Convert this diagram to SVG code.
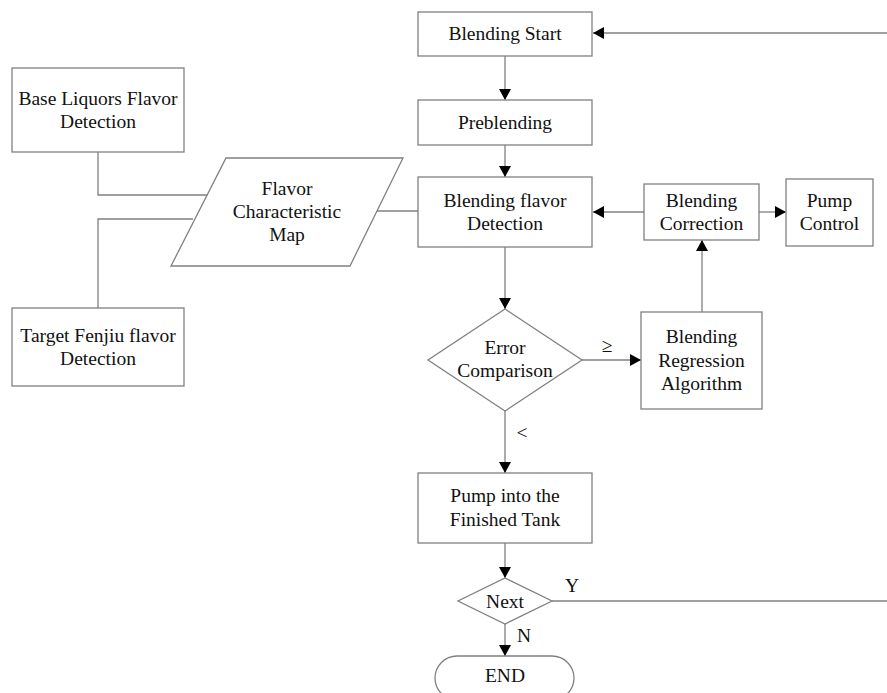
<svg xmlns="http://www.w3.org/2000/svg" width="887" height="693" viewBox="0 0 887 693">
<defs>
<marker id="ah" markerWidth="12" markerHeight="12" refX="11" refY="6" orient="auto" markerUnits="userSpaceOnUse">
<path d="M0,0 L11,6 L0,12 Z" fill="#000"/>
</marker>
<style>
.n{fill:#fff;stroke:#808080;stroke-width:1.3}
.c{fill:none;stroke:#808080;stroke-width:1.3}
.a{fill:none;stroke:#808080;stroke-width:1.3;marker-end:url(#ah)}
text{font-family:"Liberation Serif","Times New Roman",serif;font-size:19.5px;fill:#111;text-anchor:middle}
</style>
</defs>
<rect width="887" height="693" fill="#fff"/>
<g id="connectors">
<path class="a" d="M887,33 L593,33"/>
<path class="a" d="M505,56 L505,100"/>
<path class="a" d="M505,145 L505,177"/>
<path class="c" d="M98,152 L98,195 L207,195"/>
<path class="c" d="M98,308 L98,219 L193,219"/>
<path class="c" d="M377,211 L418,211"/>
<path class="a" d="M644,212 L593,212"/>
<path class="a" d="M759,212 L786,212"/>
<path class="a" d="M505,247 L505,309"/>
<path class="a" d="M582,360 L641,360"/>
<path class="a" d="M702,312 L702,240"/>
<path class="a" d="M505,411 L505,473"/>
<path class="a" d="M505,543 L505,578"/>
<path class="c" d="M552,601 L887,601"/>
<path class="a" d="M505,624 L505,656"/>
<text x="607" y="352">≥</text>
<text x="522" y="439">&lt;</text>
<text x="572" y="592">Y</text>
<text x="524" y="642">N</text>
</g>
<g id="start"><rect class="n" x="418" y="12" width="174" height="44"/><text x="505" y="40">Blending Start</text></g>
<g id="preblending"><rect class="n" x="418" y="100" width="174" height="45"/><text x="505" y="129">Preblending</text></g>
<g id="base"><rect class="n" x="12" y="68" width="172" height="84"/><text x="98" y="105">Base Liquors Flavor</text><text x="98" y="128">Detection</text></g>
<g id="target"><rect class="n" x="12" y="308" width="172" height="78"/><text x="98" y="342">Target Fenjiu flavor</text><text x="98" y="365">Detection</text></g>
<g id="map"><path class="n" d="M226,158 L403,158 L350,266 L171,266 Z"/><text x="287" y="195">Flavor</text><text x="287" y="218">Characteristic</text><text x="287" y="241">Map</text></g>
<g id="detection"><rect class="n" x="418" y="177" width="174" height="70"/><text x="505" y="207">Blending flavor</text><text x="505" y="230">Detection</text></g>
<g id="correction"><rect class="n" x="644" y="184" width="115" height="56"/><text x="701.5" y="207">Blending</text><text x="701.5" y="230">Correction</text></g>
<g id="pump"><rect class="n" x="786" y="179" width="87" height="67"/><text x="829.5" y="207">Pump</text><text x="829.5" y="230">Control</text></g>
<g id="error"><path class="n" d="M505,309 L582,360 L505,411 L428,360 Z"/><text x="505" y="354">Error</text><text x="505" y="377">Comparison</text></g>
<g id="regression"><rect class="n" x="641" y="312" width="121" height="97"/><text x="701.5" y="343">Blending</text><text x="701.5" y="367">Regression</text><text x="701.5" y="390">Algorithm</text></g>
<g id="finished"><rect class="n" x="418" y="473" width="174" height="70"/><text x="505" y="502">Pump into the</text><text x="505" y="526">Finished Tank</text></g>
<g id="next"><path class="n" d="M505,578 L552,601 L505,624 L458,601 Z"/><text x="505" y="608">Next</text></g>
<g id="end"><rect class="n" x="435" y="656" width="139" height="44" rx="22" ry="22"/><text x="505" y="682">END</text></g>
</svg>
